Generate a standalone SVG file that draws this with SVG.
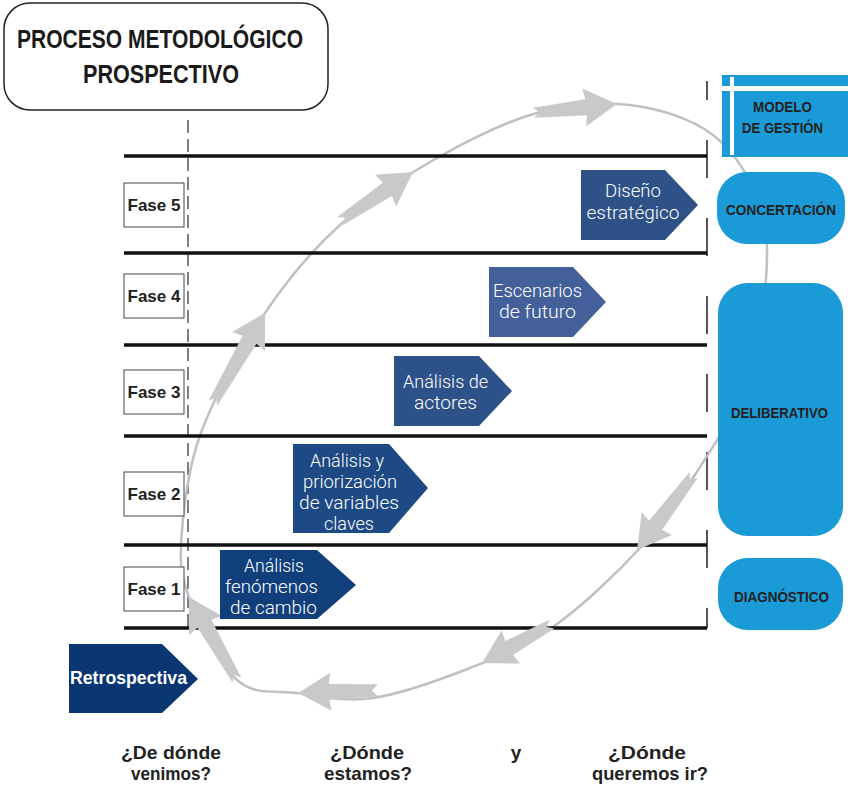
<svg xmlns="http://www.w3.org/2000/svg" width="848" height="795" viewBox="0 0 848 795">
<style>
.hl{stroke:#111;stroke-width:3.5}
.dl{stroke:#555;stroke-width:1.5;stroke-dasharray:13 6}
.dr{stroke:#555;stroke-width:2;stroke-dasharray:38 40;stroke-dashoffset:19}
.curve{fill:none;stroke:#bfc0c2;stroke-width:2.5}
.arr{fill:#c8c9cb}
.fase rect{fill:#fff;stroke:#444;stroke-width:1}
.fase text{font-family:"Liberation Sans",Arial,sans-serif;font-weight:bold;font-size:17px;fill:#222;text-anchor:middle}
.pent text{font-family:Roboto,"Liberation Sans",sans-serif;font-weight:300;font-size:17.5px;fill:#fff;text-anchor:middle}
.blue rect{fill:#1a9bd7}
.blue text{font-family:"Liberation Sans",Arial,sans-serif;font-weight:bold;font-size:14px;fill:#231f20;text-anchor:middle}
.q{font-family:"Liberation Sans",Arial,sans-serif;font-weight:bold;font-size:19px;fill:#222;text-anchor:middle}
.title{font-family:"Liberation Sans",Arial,sans-serif;font-weight:bold;font-size:25px;fill:#1a1a1a;text-anchor:middle}
</style>
<rect width="848" height="795" fill="#fff"/>

<g id="title">
<rect x="4" y="3" width="324" height="107" rx="26" fill="#fff" stroke="#222" stroke-width="1.5"/>
<text class="title" x="160" y="48" textLength="286" lengthAdjust="spacingAndGlyphs">PROCESO METODOLÓGICO</text>
<text class="title" x="161" y="83" textLength="156" lengthAdjust="spacingAndGlyphs">PROSPECTIVO</text>
</g>

<g id="grid">
<line class="dl" x1="188" y1="120" x2="188" y2="630"/>
<line class="dr" x1="707" y1="81" x2="707" y2="628"/>
</g>

<g id="connectors">
<path class="curve" d="M189,597 C179.8,572 179.8,557.8 182,530 C184.2,502.2 188.2,466.2 202,430 C215.8,393.8 242,347.2 265,313 C288,278.8 311.3,250.8 340,225 C368.7,199.2 404.2,176.7 437,158 C469.8,139.3 504.8,121.8 537,113 C569.2,104.2 600.7,101.3 630,105 C659.3,108.7 691.3,118.3 713,135 C734.7,151.7 751.3,179.2 760,205 C768.7,230.8 768,259.2 765,290 C762,320.8 752.8,360.5 742,390 C731.2,419.5 717,440.7 700,467 C683,493.3 664.5,521.3 640,548 C615.5,574.7 581.3,607 553,627 C524.7,647 500,656.2 470,668 C440,679.8 401.7,693.8 373,698 C344.3,702.2 320.7,696 298,693 C275.3,690 255.2,696 237,680 C218.8,664 198.2,622 189,597 Z"/>
</g>

<g id="phase-lines">
<line class="hl" x1="124" y1="156" x2="707" y2="156"/>
<line class="hl" x1="124" y1="253" x2="707" y2="253"/>
<line class="hl" x1="124" y1="345" x2="707" y2="345"/>
<line class="hl" x1="124" y1="436" x2="707" y2="436"/>
<line class="hl" x1="124" y1="545" x2="707" y2="545"/>
<line class="hl" x1="124" y1="628" x2="707" y2="628"/>
</g>

<g id="connector-arrows">
<path class="arr" transform="translate(189,597) rotate(-120)" d="M0,0 L-33,-19 L-31,-8 L-96,-5 L-90,0 L-96,5 L-31,8 L-33,19 Z"/>
<path class="arr" transform="translate(265,313) rotate(-60)" d="M0,0 L-33,-19 L-31,-8 L-104,-5 L-98,0 L-104,5 L-31,8 L-33,19 Z"/>
<path class="arr" transform="translate(413,172) rotate(-34)" d="M0,0 L-33,-19 L-31,-8 L-88,-5 L-82,0 L-88,5 L-31,8 L-33,19 Z"/>
<path class="arr" transform="translate(617,104) rotate(-6)" d="M0,0 L-33,-19 L-31,-8 L-84,-5 L-78,0 L-84,5 L-31,8 L-33,19 Z"/>
<path class="arr" transform="translate(637,550) rotate(127)" d="M0,0 L-33,-19 L-31,-8 L-94,-5 L-88,0 L-94,5 L-31,8 L-33,19 Z"/>
<path class="arr" transform="translate(482,663) rotate(151)" d="M0,0 L-33,-19 L-31,-8 L-80,-5 L-74,0 L-80,5 L-31,8 L-33,19 Z"/>
<path class="arr" transform="translate(298,693) rotate(178)" d="M0,0 L-33,-19 L-31,-8 L-80,-6 L-74,0 L-80,6 L-31,8 L-33,19 Z"/>
</g>

<g id="fase5" class="fase"><rect x="124" y="183" width="60" height="44"/><text x="154" y="211">Fase 5</text></g>
<g id="fase4" class="fase"><rect x="124" y="274" width="60" height="44"/><text x="154" y="302">Fase 4</text></g>
<g id="fase3" class="fase"><rect x="124" y="370" width="60" height="44"/><text x="154" y="398">Fase 3</text></g>
<g id="fase2" class="fase"><rect x="124" y="472" width="60" height="44"/><text x="154" y="500">Fase 2</text></g>
<g id="fase1" class="fase"><rect x="124" y="567" width="60" height="44"/><text x="154" y="595">Fase 1</text></g>

<g id="diseno" class="pent">
<polygon points="581,170 665,170 698,205 665,240 581,240" fill="#2e5288"/>
<text x="633" y="197" textLength="56" lengthAdjust="spacingAndGlyphs">Diseño</text>
<text x="633" y="219" textLength="93" lengthAdjust="spacingAndGlyphs">estratégico</text>
</g>
<g id="escenarios" class="pent">
<polygon points="489,267 573,267 606,302 573,337 489,337" fill="#44609a"/>
<text x="537.5" y="297" textLength="89" lengthAdjust="spacingAndGlyphs">Escenarios</text>
<text x="537.5" y="318" textLength="77" lengthAdjust="spacingAndGlyphs">de futuro</text>
</g>
<g id="actores" class="pent">
<polygon points="394,356 479,356 512,391 479,426 394,426" fill="#2d5189"/>
<text x="445.5" y="388" textLength="85" lengthAdjust="spacingAndGlyphs">Análisis de</text>
<text x="445.5" y="409" textLength="63" lengthAdjust="spacingAndGlyphs">actores</text>
</g>
<g id="variables" class="pent">
<polygon points="293,444 389,444 428,488 389,533 293,533" fill="#1d4985"/>
<text x="347" y="467" textLength="74" lengthAdjust="spacingAndGlyphs">Análisis y</text>
<text x="350" y="488" textLength="94" lengthAdjust="spacingAndGlyphs">priorización</text>
<text x="349" y="509" textLength="100" lengthAdjust="spacingAndGlyphs">de variables</text>
<text x="349" y="530" textLength="50" lengthAdjust="spacingAndGlyphs">claves</text>
</g>
<g id="fenomenos" class="pent">
<polygon points="220,550 317,550 356,585 317,619 220,619" fill="#103f7c"/>
<text x="274" y="572" textLength="60" lengthAdjust="spacingAndGlyphs">Análisis</text>
<text x="271.5" y="593" textLength="93" lengthAdjust="spacingAndGlyphs">fenómenos</text>
<text x="273.5" y="614" textLength="87" lengthAdjust="spacingAndGlyphs">de cambio</text>
</g>
<g id="retrospectiva" class="pent">
<polygon points="69,644 162,644 198,679 162,713 69,713" fill="#0a3672"/>
<text x="128.5" y="684" style="font-family:'Liberation Sans',Arial,sans-serif;font-weight:bold;font-size:18px" textLength="117" lengthAdjust="spacingAndGlyphs">Retrospectiva</text>
</g>

<g id="modelo" class="blue">
<rect x="722" y="75" width="126" height="82"/>
<rect x="722" y="86" width="126" height="5" style="fill:#fff"/>
<rect x="730" y="77" width="4" height="78" style="fill:#fff"/>
<text x="782.5" y="112" textLength="59" lengthAdjust="spacingAndGlyphs">MODELO</text>
<text x="782.5" y="133" textLength="81" lengthAdjust="spacingAndGlyphs">DE GESTIÓN</text>
</g>
<g id="concertacion" class="blue">
<rect x="717" y="172" width="128" height="72" rx="30"/>
<text x="781" y="215" textLength="110" lengthAdjust="spacingAndGlyphs">CONCERTACIÓN</text>
</g>
<g id="deliberativo" class="blue">
<rect x="718" y="283" width="125" height="253" rx="30"/>
<text x="779.5" y="418" textLength="97" lengthAdjust="spacingAndGlyphs">DELIBERATIVO</text>
</g>
<g id="diagnostico" class="blue">
<rect x="718" y="558" width="125" height="72" rx="30"/>
<text x="781.5" y="602" textLength="95" lengthAdjust="spacingAndGlyphs">DIAGNÓSTICO</text>
</g>

<g id="questions">
<text class="q" x="171" y="759" textLength="100" lengthAdjust="spacingAndGlyphs">¿De dónde</text>
<text class="q" x="171" y="780" textLength="80" lengthAdjust="spacingAndGlyphs">venimos?</text>
<text class="q" x="367" y="759" textLength="74" lengthAdjust="spacingAndGlyphs">¿Dónde</text>
<text class="q" x="368" y="780" textLength="88" lengthAdjust="spacingAndGlyphs">estamos?</text>
<text class="q" x="516" y="759">y</text>
<text class="q" x="647" y="759" textLength="78" lengthAdjust="spacingAndGlyphs">¿Dónde</text>
<text class="q" x="650" y="780" textLength="116" lengthAdjust="spacingAndGlyphs">queremos ir?</text>
</g>
</svg>
